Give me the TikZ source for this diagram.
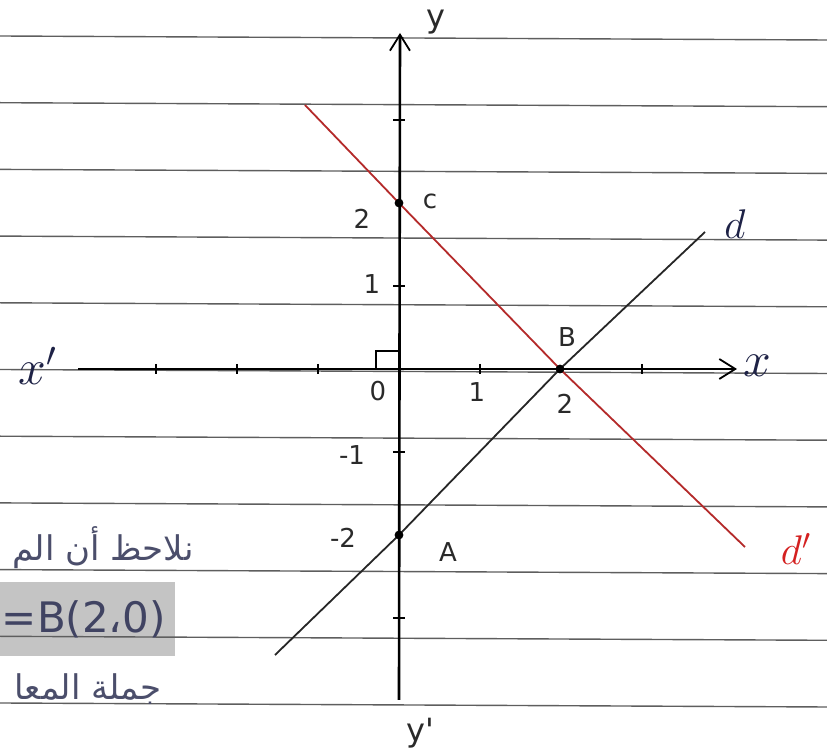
\documentclass[tikz,border=0pt]{standalone}
\usepackage{fontspec}
\usetikzlibrary{arrows.meta}
\TeXXeTstate=1
\newfontfamily\arabicfont[Script=Arabic]{DejaVu Sans}
\newfontfamily\handfont{DejaVu Sans}
\definecolor{ink}{HTML}{1E2246}
\definecolor{redink}{HTML}{B42A2A}
\definecolor{lbred}{HTML}{D42020}
\definecolor{ruleclr}{HTML}{5E5E5E}
\definecolor{boxgray}{HTML}{C4C4C4}
\definecolor{pencil}{HTML}{2A2A2A}
\begin{document}
\begin{tikzpicture}[x=0.5pt,y=-0.5pt,
  ruleline/.style={ruleclr, line width=0.7pt},
  axisline/.style={black, line width=1.3pt},
  tickline/.style={black, line width=1pt},
  linedee/.style={black!85, line width=0.9pt},
  linered/.style={redink, line width=0.9pt},
  barb/.style={-{Straight Barb[length=8pt,width=10pt,line width=0.9pt]}},
  lbl/.style={font=\handfont\fontsize{13}{15}\selectfont, text=pencil, inner sep=0pt},
  biglbl/.style={font=\itshape\fontsize{24}{26}\selectfont, text=ink, inner sep=0pt},
  arab/.style={inner sep=0pt, anchor=south east, font=\arabicfont\fontsize{17}{19}\selectfont, text=ink!80},
  dotpt/.style={black, radius=2.2pt}]
\useasboundingbox (0,0) rectangle (827,754);
\clip (0,0) rectangle (827,754);
\fill[white] (0,0) rectangle (827,754);
% grey highlight box
\fill[boxgray] (0,582) rectangle (175,656);
% ruled paper lines
\foreach \k in {0,...,10}
  \draw[ruleline] (0,{36+66.7*\k}) -- (827,{40+66.7*\k});
% coordinates
\coordinate (O) at (399,369);
\coordinate (xs) at (78,369);
\coordinate (xe) at (737,369);
\coordinate (ys) at (399,700);
\coordinate (ye) at (400,33);
\coordinate (A) at (399,535);
\coordinate (B) at (560,369);
\coordinate (C) at (399,203);
\coordinate (ds) at (275,655);
\coordinate (de) at (705,232);
\coordinate (rs) at (305,105);
\coordinate (re) at (745,547);
% lines d and d'
\draw[linered] (rs) -- (C) -- (B) -- (re);
\draw[linedee] (ds) -- (A) -- (B) -- (de);
% axes
\draw[axisline, barb] (xs) -- (xe);
\draw[axisline, barb] (ys) -- (ye);
% ticks
\foreach \t in {156,237,318,480,642}
  \draw[tickline] (\t,364) -- (\t,374);
\foreach \t in {120,286,452,618}
  \draw[tickline] (393,\t) -- (405,\t);
% right angle mark
\draw[tickline] (376,369) -- (376,351) -- (399,351);
% points
\fill[dotpt] (A) circle;
\fill[dotpt] (B) circle;
\fill[dotpt] (C) circle;
% axis labels
\node[biglbl] (lx) at (757,366) {$x$};
\node[biglbl] (lxp) at (38,366) {$x'$};
\node[lbl, font=\handfont\fontsize{16}{18}\selectfont] (ly) at (436,22) {y};
\node[lbl, font=\handfont\fontsize{16}{18}\selectfont] (lyp) at (420,733) {y'};
\node[lbl] (lO) at (378,391) {0};
\node[lbl] (l1x) at (477,392) {1};
\node[lbl] (l2x) at (565,404) {2};
\node[lbl] (l1y) at (372,284) {1};
\node[lbl] (l2y) at (362,219) {2};
\node[lbl] (lm1) at (352,455) {-1};
\node[lbl] (lm2) at (343,538) {-2};
\node[lbl] (lA) at (448,552) {A};
\node[lbl] (lB) at (567,337) {B};
\node[lbl] (lC) at (430,201) {c};
\node[biglbl, font=\itshape\fontsize{20}{22}\selectfont] (ld) at (735,224) {$d$};
\node[biglbl, text=lbred, font=\itshape\fontsize{20}{22}\selectfont] (ldp) at (796,549) {$d'$};
% arabic notes
\node[arab] (ar1) at (194,569) {\beginR نلاحظ أن الم\endR};
\node[inner sep=0pt, anchor=east, font=\handfont\fontsize{21}{23}\selectfont, text=ink!85] (eqB) at (166,619) {=B(2،0)};
\node[arab] (ar3) at (162,705) {\beginR جملة المعا\endR};
\end{tikzpicture}
\end{document}
